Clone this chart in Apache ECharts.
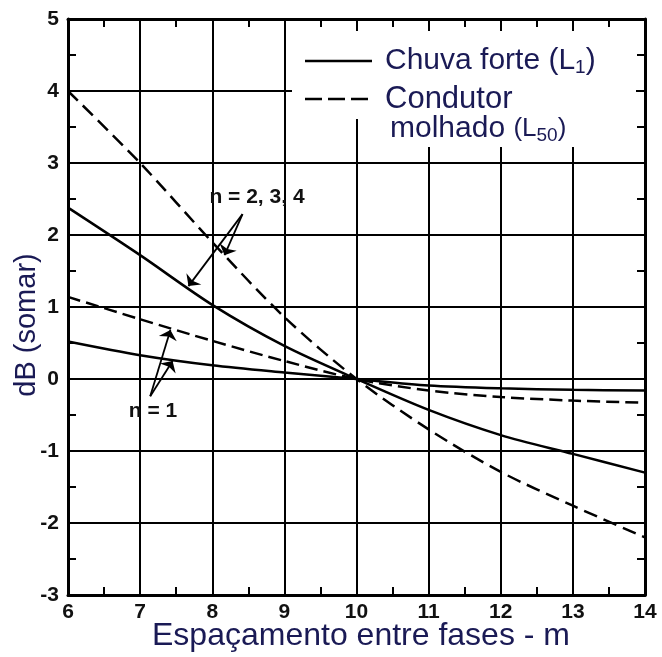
<!DOCTYPE html>
<html>
<head>
<meta charset="utf-8">
<script src="https://cdn.jsdelivr.net/npm/echarts@6/dist/echarts.min.js"></script>
<style>
html,body{margin:0;padding:0;background:#fff;}
#chart{width:662px;height:657px;}
</style>
</head>
<body>
<div id="chart"></div>
<script>
// ---- data ----
var spacing = [6, 7, 8, 9, 10, 11, 12, 13, 14];
var heavyRain_n234 = [2.38, 1.72, 1.03, 0.46, 0, -0.43, -0.78, -1.04, -1.30];   // Chuva forte (L1), n = 2,3,4
var wetCond_n234   = [4.00, 3.00, 1.90, 0.86, 0, -0.70, -1.29, -1.76, -2.20];   // Condutor molhado (L50), n = 2,3,4
var heavyRain_n1   = [0.52, 0.33, 0.19, 0.09, 0, -0.09, -0.13, -0.15, -0.16];   // Chuva forte (L1), n = 1
var wetCond_n1     = [1.14, 0.83, 0.53, 0.25, 0, -0.16, -0.25, -0.30, -0.33];   // Condutor molhado (L50), n = 1
var xTicks = [6, 7, 8, 9, 10, 11, 12, 13, 14];
var yTicks = [-3, -2, -1, 0, 1, 2, 3, 4, 5];
var arrowsN234 = [[[8.42, 2.29], [7.67, 1.29]], [[8.42, 2.29], [8.17, 1.72]]];
var arrowsN1   = [[[7.14, -0.24], [7.42, 0.68]], [[7.14, -0.24], [7.45, 0.25]]];
var labelN234 = 'n = 2, 3, 4';
var labelN1 = 'n = 1';

function pairs(ys){ return spacing.map(function(x,i){ return [x, ys[i]]; }); }

var textColor = '#1a1a55';
var boldFamily = "'Liberation Sans',Arial,Helvetica,sans-serif";
var tickFont = {fontFamily:boldFamily, fontWeight:'bold', fontSize:21, color:'#111'};

function axisCommon(extra){
  var a = {
    type:'value',
    axisLine:{show:true, onZero:false, lineStyle:{color:'#000', width:3}},
    axisTick:{show:false, inside:true},
    minorTick:{show:true, splitNumber:2, length:8, lineStyle:{color:'#000', width:2}},
    minorSplitLine:{show:false}
  };
  for (var k in extra) a[k] = extra[k];
  return a;
}

function arrowLines(list){
  return list.map(function(a){
    return [{coord:a[0], symbol:'none'}, {coord:a[1], symbol:'arrow'}];
  });
}

var chart = echarts.init(document.getElementById('chart'), null, {renderer:'canvas'});
var option = {
  animation:false,
  backgroundColor:'#fff',
  grid:{left:68, top:19, width:577, height:576, containLabel:false, outerBoundsMode:'none'},
  xAxis:[
    axisCommon({position:'bottom', min:6, max:14, interval:1,
      axisLabel:Object.assign({margin:7, formatter:function(v){return xTicks.indexOf(v)>=0 ? String(v) : '';}}, tickFont),
      splitLine:{show:true, lineStyle:{color:'#000', width:2}}}),
    axisCommon({position:'top', min:6, max:14, interval:1, axisLabel:{show:false}, splitLine:{show:false}})
  ],
  yAxis:[
    axisCommon({position:'left', min:-3, max:5, interval:1,
      axisLabel:Object.assign({margin:9, formatter:function(v){return yTicks.indexOf(v)>=0 ? String(v) : '';}}, tickFont),
      splitLine:{show:true, lineStyle:{color:'#000', width:2}}}),
    axisCommon({position:'right', min:-3, max:5, interval:1, axisLabel:{show:false}, splitLine:{show:false}})
  ],
  series:[
    {name:'Chuva forte (L1) n=2,3,4', type:'line', data:pairs(heavyRain_n234), smooth:0.3, symbol:'none',
      lineStyle:{color:'#000', width:2.5, type:'solid'}, z:5,
      markLine:{silent:true, symbolSize:[14,9], precision:4, label:{show:false},
        lineStyle:{color:'#000', width:1.8, type:'solid'}, data:arrowLines(arrowsN234)}},
    {name:'Condutor molhado (L50) n=2,3,4', type:'line', data:pairs(wetCond_n234), smooth:0.3, symbol:'none',
      lineStyle:{color:'#000', width:2.5, type:[14,7]}, z:5},
    {name:'Chuva forte (L1) n=1', type:'line', data:pairs(heavyRain_n1), smooth:0.3, symbol:'none',
      lineStyle:{color:'#000', width:2.5, type:'solid'}, z:5,
      markLine:{silent:true, symbolSize:[14,9], precision:4, label:{show:false},
        lineStyle:{color:'#000', width:1.8, type:'solid'}, data:arrowLines(arrowsN1)}},
    {name:'Condutor molhado (L50) n=1', type:'line', data:pairs(wetCond_n1), smooth:0.3, symbol:'none',
      lineStyle:{color:'#000', width:2.5, type:[13,6]}, z:5}
  ],
  graphic:[
    // legend background
    {type:'rect', z:50, shape:{x:292, y:31, width:344, height:88}, style:{fill:'#fff'}},
    {type:'rect', z:50, shape:{x:382, y:117, width:215, height:30}, style:{fill:'#fff'}},
    {type:'line', z:51, shape:{x1:305, y1:61, x2:372, y2:61}, style:{stroke:'#000', lineWidth:2.5}},
    {type:'line', z:51, shape:{x1:305, y1:99, x2:372, y2:99}, style:{stroke:'#000', lineWidth:2.5, lineDash:[17,6]}},
    {type:'text', z:52, x:385, y:61, style:{
      text:'{a|Chuva forte (L}{s|1}{a|)}', verticalAlign:'middle', align:'left',
      rich:{a:{fontFamily:"'Liberation Sans',Arial,sans-serif", fontSize:30, lineHeight:32, fill:textColor, verticalAlign:'middle'},
            s:{fontFamily:"'Liberation Sans',Arial,sans-serif", fontSize:19, lineHeight:19, fill:textColor, verticalAlign:'bottom'}}}},
    {type:'text', z:52, x:385, y:99, style:{
      text:'Condutor', verticalAlign:'middle', align:'left',
      fontFamily:"'Liberation Sans',Arial,sans-serif", fontSize:31, fill:textColor}},
    {type:'text', z:52, x:390, y:129, style:{
      text:'{a|molhado }{b|(L}{s|50}{b|)}', verticalAlign:'middle', align:'left',
      rich:{a:{fontFamily:"'Liberation Sans',Arial,sans-serif", fontSize:30, lineHeight:32, fill:textColor, verticalAlign:'middle'},
            b:{fontFamily:"'Liberation Sans',Arial,sans-serif", fontSize:26, lineHeight:32, fill:textColor, verticalAlign:'middle'},
            s:{fontFamily:"'Liberation Sans',Arial,sans-serif", fontSize:19, lineHeight:19, fill:textColor, verticalAlign:'bottom'}}}},
    // annotations
    {type:'text', z:52, x:257, y:197, style:{text:labelN234, align:'center', verticalAlign:'middle',
      fontFamily:boldFamily, fontWeight:'bold', fontSize:21, fill:'#111'}},
    {type:'text', z:52, x:153, y:411, style:{text:labelN1, align:'center', verticalAlign:'middle',
      fontFamily:boldFamily, fontWeight:'bold', fontSize:21, fill:'#111'}},
    // axis titles
    {type:'text', z:52, x:361, y:636, style:{text:'Espaçamento entre fases - m', align:'center', verticalAlign:'middle',
      fontFamily:"'Liberation Sans',Arial,sans-serif", fontSize:32, fill:textColor}},
    {type:'text', z:52, x:27, y:325, rotation:Math.PI/2, style:{text:'dB (somar)', align:'center', verticalAlign:'middle',
      fontFamily:"'Liberation Sans',Arial,sans-serif", fontSize:29, fill:textColor}}
  ]
};
chart.setOption(option);
</script>
</body>
</html>
